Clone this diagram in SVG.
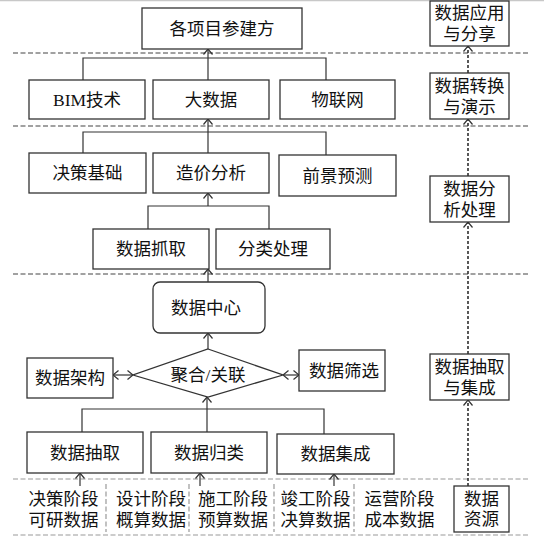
<svg xmlns="http://www.w3.org/2000/svg" width="544" height="545" viewBox="0 0 544 545">
<defs>
<style>
.b{fill:#fff;stroke:#333;stroke-width:1.3}
.t{font-family:"Liberation Serif","Noto Sans CJK SC",serif;font-size:17.5px;fill:#111;text-anchor:middle;dominant-baseline:central}
.c{fill:none;stroke:#333;stroke-width:1.2}
.hd{fill:none;stroke:#444;stroke-width:1.2;stroke-dasharray:5 2.5}
.gd{fill:none;stroke:#999;stroke-width:1.2;stroke-dasharray:5 2.5}
.rd{fill:none;stroke:#222;stroke-width:1.5;stroke-dasharray:3 2}
</style>
<marker id="a" markerUnits="userSpaceOnUse" viewBox="0 0 10 10" markerWidth="10" markerHeight="10" refX="10" refY="5" orient="auto-start-reverse">
<path d="M4.5,0.5 L10,5 L4.5,9.5" fill="none" stroke="#333" stroke-width="1.2"/>
</marker>
</defs>
<rect width="544" height="545" fill="#fff"/>
<line x1="0" y1="0.5" x2="544" y2="0.5" stroke="#c8c8c8" stroke-width="1.5"/>

<g id="separators">
<line class="hd" x1="13" y1="53" x2="530" y2="53"/>
<line class="hd" x1="13" y1="126" x2="530" y2="126"/>
<line class="hd" x1="13" y1="274" x2="530" y2="274"/>
<line class="gd" x1="13" y1="479" x2="530" y2="479"/>
<line class="gd" x1="13" y1="535" x2="530" y2="535"/>
<line class="gd" x1="106" y1="484" x2="106" y2="532"/>
<line class="gd" x1="189" y1="484" x2="189" y2="532"/>
<line class="gd" x1="274" y1="484" x2="274" y2="532"/>
<line class="gd" x1="354" y1="484" x2="354" y2="532"/>
</g>

<g id="connectors">
<polyline class="c" points="83,80 83,58 326,58 326,80"/>
<line class="c" x1="208" y1="80" x2="208" y2="49" marker-end="url(#a)"/>
<polyline class="c" points="83,153 83,132 326,132 326,155"/>
<line class="c" x1="208" y1="153" x2="208" y2="119" marker-end="url(#a)"/>
<polyline class="c" points="148,229 148,206 269,206 269,229"/>
<line class="c" x1="208" y1="206" x2="208" y2="193" marker-end="url(#a)"/>
<line class="c" x1="208" y1="282" x2="208" y2="269" marker-end="url(#a)"/>
<line class="c" x1="208" y1="349" x2="208" y2="333" marker-end="url(#a)"/>
<line class="c" x1="113" y1="375" x2="133" y2="375" marker-start="url(#a)" marker-end="url(#a)"/>
<line class="c" x1="283" y1="375" x2="299" y2="375" marker-start="url(#a)" marker-end="url(#a)"/>
<polyline class="c" points="82,432 82,409 324,409 324,434"/>
<line class="c" x1="207" y1="432" x2="207" y2="397" marker-end="url(#a)"/>
<line class="c" x1="80" y1="486" x2="80" y2="473" marker-end="url(#a)"/>
<line class="c" x1="200" y1="486" x2="200" y2="473" marker-end="url(#a)"/>
<line class="c" x1="334" y1="486" x2="334" y2="474" marker-end="url(#a)"/>
<line class="rd" x1="468" y1="73" x2="468" y2="46" marker-end="url(#a)"/>
<line class="rd" x1="468" y1="176" x2="468" y2="119" marker-end="url(#a)"/>
<line class="rd" x1="468" y1="354" x2="468" y2="222" marker-end="url(#a)"/>
<line class="rd" x1="468" y1="486" x2="468" y2="400" marker-end="url(#a)"/>
</g>

<g id="n-participants"><rect class="b" x="142" y="8" width="160" height="41"/><text class="t" x="222" y="28.5">各项目参建方</text></g>
<g id="n-bim"><rect class="b" x="29" y="80" width="116" height="39"/><text class="t" x="87" y="99.5">BIM技术</text></g>
<g id="n-bigdata"><rect class="b" x="153" y="80" width="116" height="39"/><text class="t" x="211" y="99.5">大数据</text></g>
<g id="n-iot"><rect class="b" x="280" y="80" width="115" height="39"/><text class="t" x="337.5" y="99.5">物联网</text></g>

<g id="n-decision"><rect class="b" x="29" y="153" width="117" height="40"/><text class="t" x="87.5" y="173">决策基础</text></g>
<g id="n-cost"><rect class="b" x="153" y="153" width="116" height="40"/><text class="t" x="211" y="173">造价分析</text></g>
<g id="n-forecast"><rect class="b" x="279" y="155" width="117" height="41"/><text class="t" x="337.5" y="175.5">前景预测</text></g>

<g id="n-grab"><rect class="b" x="93" y="229" width="116" height="40"/><text class="t" x="151" y="249">数据抓取</text></g>
<g id="n-classify"><rect class="b" x="216" y="229" width="114" height="40"/><text class="t" x="273" y="249">分类处理</text></g>

<g id="n-center"><rect class="b" x="153" y="282" width="112" height="51" rx="7"/><text class="t" x="206" y="308">数据中心</text></g>
<g id="n-aggregate"><polygon class="b" points="208,349 283,375 208,397 133,375"/><text class="t" x="208" y="375">聚合/关联</text></g>
<g id="n-arch"><rect class="b" x="27" y="358" width="86" height="40"/><text class="t" x="70" y="378">数据架构</text></g>
<g id="n-filter"><rect class="b" x="299" y="350" width="86" height="41"/><text class="t" x="344" y="370.5">数据筛选</text></g>

<g id="n-extract"><rect class="b" x="27" y="432" width="116" height="41"/><text class="t" x="85" y="452.5">数据抽取</text></g>
<g id="n-sort"><rect class="b" x="151" y="432" width="116" height="41"/><text class="t" x="209" y="452.5">数据归类</text></g>
<g id="n-integrate"><rect class="b" x="277" y="434" width="117" height="40"/><text class="t" x="335.5" y="454">数据集成</text></g>

<g id="n-s1"><text class="t" x="63.5" y="499">决策阶段</text><text class="t" x="63.5" y="520">可研数据</text></g>
<g id="n-s2"><text class="t" x="151" y="499">设计阶段</text><text class="t" x="151" y="520">概算数据</text></g>
<g id="n-s3"><text class="t" x="233" y="499">施工阶段</text><text class="t" x="233" y="520">预算数据</text></g>
<g id="n-s4"><text class="t" x="315.5" y="499">竣工阶段</text><text class="t" x="315.5" y="520">决算数据</text></g>
<g id="n-s5"><text class="t" x="399.5" y="499">运营阶段</text><text class="t" x="399.5" y="520">成本数据</text></g>

<g id="n-r1"><rect class="b" x="430" y="1" width="79" height="45"/><text class="t" x="469.5" y="13">数据应用</text><text class="t" x="469.5" y="34">与分享</text></g>
<g id="n-r2"><rect class="b" x="430" y="73" width="79" height="46"/><text class="t" x="469.5" y="86">数据转换</text><text class="t" x="469.5" y="107">与演示</text></g>
<g id="n-r3"><rect class="b" x="430" y="176" width="79" height="46"/><text class="t" x="469.5" y="189">数据分</text><text class="t" x="469.5" y="210">析处理</text></g>
<g id="n-r4"><rect class="b" x="430" y="354" width="79" height="46"/><text class="t" x="469.5" y="367">数据抽取</text><text class="t" x="469.5" y="388">与集成</text></g>
<g id="n-r5"><rect class="b" x="454" y="486" width="55" height="46"/><text class="t" x="481.5" y="499">数据</text><text class="t" x="481.5" y="519">资源</text></g>
</svg>
